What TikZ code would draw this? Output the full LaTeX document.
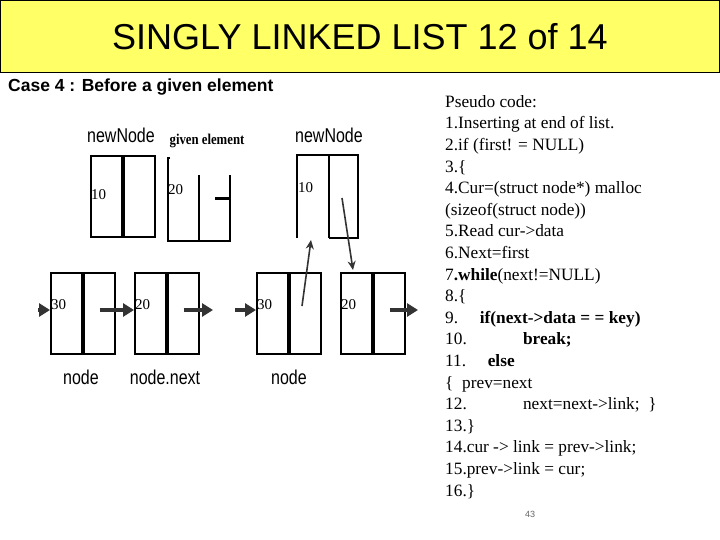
\documentclass[tikz,border=0pt]{standalone}
\usepackage{fontspec}
\setmainfont{Liberation Serif}
\setsansfont{Liberation Sans}
\usetikzlibrary{arrows.meta,positioning}
\definecolor{banner}{RGB}{255,255,102}

\begin{document}
\begin{tikzpicture}[x=1pt, y=-1pt,
  cell/.style={draw, line width=2pt, minimum width=31pt, minimum height=81pt,
    inner sep=1pt},
  num/.style={font=\fontsize{15}{16}\selectfont, anchor=west, inner sep=1pt},
  lbl/.style={font=\sffamily\fontsize{20}{22}\selectfont, inner sep=0pt, xscale=0.8},
  arrow/.style={-{Triangle[length=11pt,width=13pt]}, line width=4pt, draw=black!80},
  ptr/.style={-{Stealth[length=9pt,width=8pt]}, line width=1.6pt, draw=black!80},
  code/.style={font=\fontsize{17.3}{21.6}\selectfont, align=left, anchor=north west, inner sep=0pt}
]
\useasboundingbox (0,0) rectangle (720,540);
\fill[white] (0,0) rectangle (720,540);
\draw[fill=banner] (0,0) rectangle (719.5,72);
\node[font=\sffamily\fontsize{36}{40}\selectfont] (title) at (360,37) {SINGLY LINKED LIST 12 of 14};
\node[font=\sffamily\bfseries\fontsize{17.5}{20}\selectfont, anchor=west, inner sep=0pt] (case) at (8,87)
  {Case 4 : Before a given element};

% left picture
\node[cell, anchor=north west] (nnd) at (90,155) {};
\node[cell, anchor=north west] (nnp) at (nnd.north east) {};
\node[num] (n10) at (nnd.west |- 0,195) {10};
\node[lbl] (nnl) at (121,135) {newNode};
\draw[line width=2pt] (170,158) -- (168,158) -- (168,241) -- (230,241) -- (230,175);
\draw[line width=2pt] (199,175) -- (199,241);
\draw[line width=3pt] (215,199) -- (230,199);
\node[num, inner sep=0pt] (g20) at (168,190) {20};
\node[font=\fontsize{15}{16}\selectfont\bfseries, inner sep=0pt, xscale=0.85] (gel) at (207,141) {given element};

\node[cell, anchor=north west] (n1d) at (50,272) {};
\node[cell, anchor=north west] (n1p) at (n1d.north east) {};
\node[cell, anchor=north west] (n2d) at (134,272) {};
\node[cell, anchor=north west] (n2p) at (n2d.north east) {};
\node[num] at (n1d.west |- 0,305) {30};
\node[num] at (n2d.west |- 0,305) {20};
\node[lbl] (n1l) at (81,377) {node};
\node[lbl] (n2l) at (165,377) {node.next};
\coordinate (in1) at (38,310);
\coordinate (out2) at (213,310);
\draw[arrow] (in1) -- (n1d.west |- in1);
\draw[arrow] (n1p.center |- in1) -- (n2d.west |- in1);
\draw[arrow] (n2p.center |- in1) -- (out2);

% right picture
\draw[line width=2pt] (297,238) -- (297,155) -- (358,155) -- (358,238) -- (329,238);
\draw[line width=2pt] (329,155) -- (329,238);
\node[num, inner sep=0pt] (m10) at (298,188) {10};
\node[lbl] (mnl) at (329,135) {newNode};
\node[cell, anchor=north west] (m1d) at (256,272) {};
\node[cell, anchor=north west] (m1p) at (m1d.north east) {};
\node[cell, anchor=north west] (m2d) at (340,272) {};
\node[cell, anchor=north west] (m2p) at (m2d.north east) {};
\node[num] at (m1d.west |- 0,305) {30};
\node[num] at (m2d.west |- 0,305) {20};
\node[lbl] (m1l) at (289,377) {node};
\coordinate (in3) at (235,310);
\coordinate (out4) at (418,310);
\draw[arrow] (in3) -- (m1d.west |- in3);
\draw[arrow] (m2p.center |- in3) -- (out4);
\draw[ptr] (302,306) -- (311,240);
\draw[ptr] (342,198) -- (353,270);

% pseudo code
\node[code] (pc) at (445,95) {Pseudo code:\\
1.Inserting at end of list.\\
2.if (first! = NULL)\\
3.\{\\
4.Cur=(struct node*) malloc\\
(sizeof(struct node))\\
5.Read cur->data\\
6.Next=first\\
7\textbf{.while}(next!=NULL)\\
8.\{\\
9.\quad\ \textbf{if(next->data = = key)}\\
10.\qquad\quad\ \textbf{break;}\\
11.\quad\ \textbf{else}\\
\{\ \ prev=next\\
12.\qquad\quad\ next=next->link;\ \ \}\\
13.\}\\
14.cur -> link = prev->link;\\
15.prev->link = cur;\\
16.\}};
\node[font=\sffamily\small, text=black!60] (pg) at (530,514) {43};
\end{tikzpicture}
\end{document}
